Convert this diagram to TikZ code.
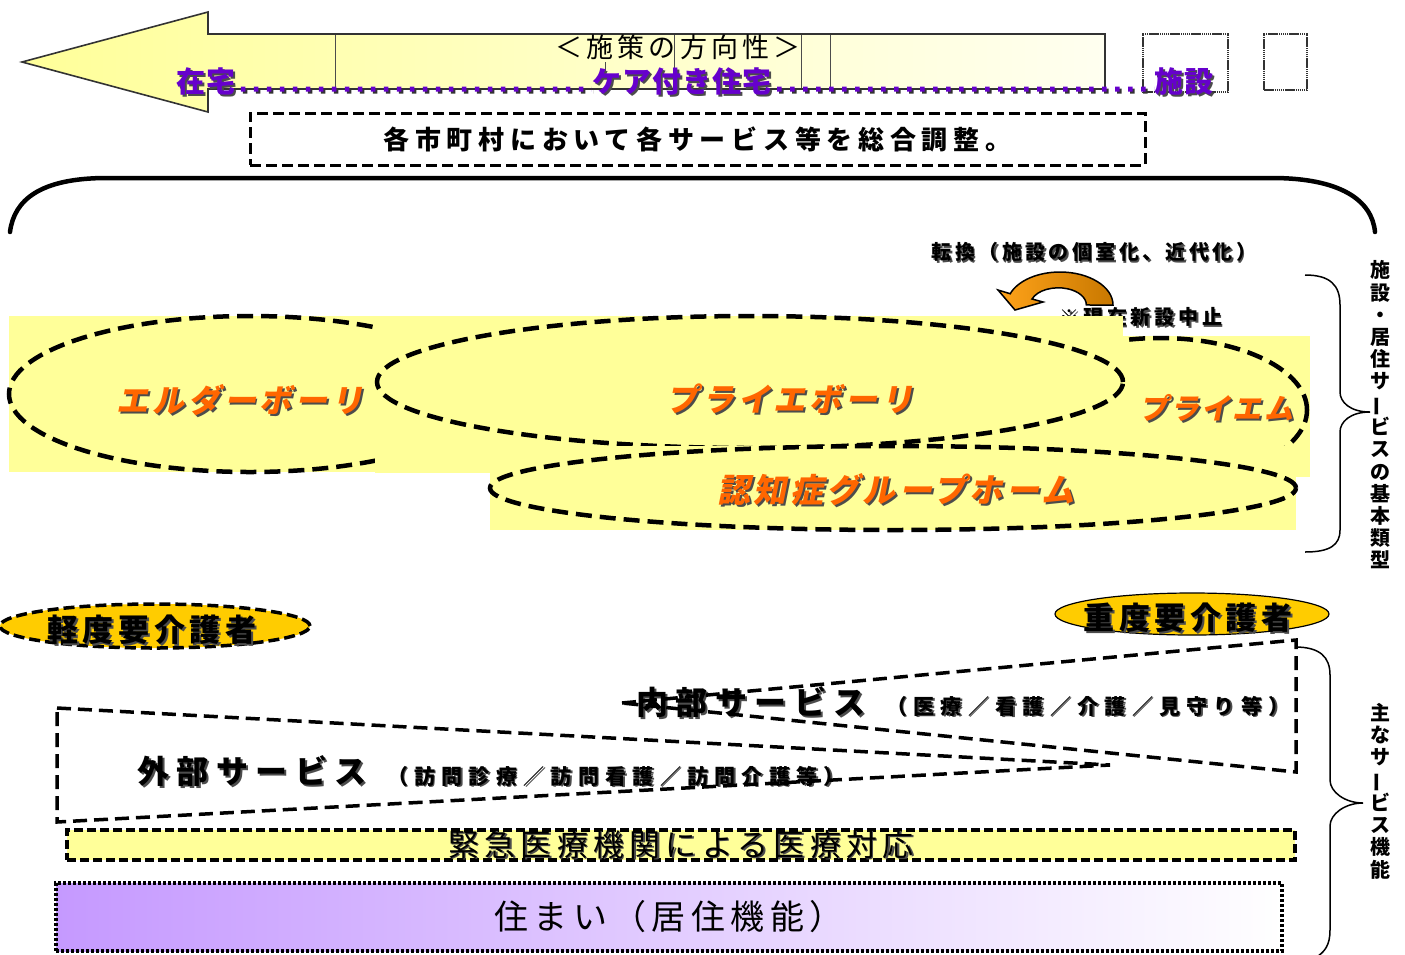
\documentclass[tikz,border=0pt]{standalone}
\usepackage{fontspec}
\usepackage{graphicx}
\setmainfont{Noto Sans CJK JP}
\newfontfamily\jpit{Noto Sans CJK JP}[FakeSlant=0.2]
\usetikzlibrary{shapes.geometric}
\definecolor{yel}{HTML}{FFFF99}
\definecolor{pur}{HTML}{6600CC}
\definecolor{org}{HTML}{FF6600}
\definecolor{gold}{HTML}{FFCC00}
\definecolor{lilac}{HTML}{C599FF}
\definecolor{paleyel}{HTML}{FFFFF0}
\definecolor{arrA}{HTML}{FFA31A}
\definecolor{arrB}{HTML}{C87800}
\newcommand{\shd}[3]{\leavevmode\rlap{\hspace*{#1}\raisebox{-#1}{\textcolor{black!70}{#3}}}\textcolor{#2}{#3}}
\newcommand{\fsz}[1]{\fontsize{#1}{#1}\selectfont}
\newcommand{\ls}[1]{\addfontfeature{LetterSpace=#1}}
\newcommand{\vbar}{\rotatebox[origin=c]{90}{ー}}
\begin{document}
\begin{tikzpicture}[x=1pt,y=-1pt,
  txt/.style={inner sep=0pt},
  ell/.style={ellipse, draw=black, line width=4.5pt, dash pattern=on 16pt off 8pt, inner sep=0pt},
  svc/.style={draw=black, line width=3.5pt, dash pattern=on 14pt off 7pt},
  dotbox/.style={draw=black!80, line width=1.8pt, dash pattern=on 1.5pt off 0.6pt, inner sep=0pt},
  orgtxt/.style={inner sep=0pt, font=\jpit\bfseries\fsz{32}\ls{12}},
  purdots/.style={line width=5pt, dash pattern=on 4.5pt off 8.5pt},
  vtext/.style={inner sep=0pt, align=center, font=\bfseries\fontsize{20}{22.2}\selectfont}
]
\useasboundingbox (0,0) rectangle (1405,954);

% big direction arrow
\draw[left color=yel, right color=paleyel, draw=black!80, line width=1.6pt]
  (22,62) -- (208,12) -- (208,34) -- (1105,34) -- (1105,89) -- (208,89) -- (208,112) -- cycle;
\foreach \xx in {335,674,801,830} \draw[black!70, line width=0.8pt] (\xx,35) -- (\xx,88);
\draw[black!70, line width=0.8pt] (605,62) -- (605,78);
\node[txt, font=\fsz{27}\ls{15}] (dir) at (678,47) {＜施策の方向性＞};

\node[dotbox, minimum width=85, minimum height=58] (box1) at (1185.5,63) {};
\node[dotbox, minimum width=43, minimum height=56] (box2) at (1285.5,62) {};

\node[txt, font=\bfseries\fsz{29}\ls{4}] (zaitaku) at (206,82) {\shd{2pt}{pur}{在宅}};
\node[txt, font=\bfseries\fsz{29}\ls{4}] (care) at (682,82) {\shd{2pt}{pur}{ケア付き住宅}};
\node[txt, font=\bfseries\fsz{29}\ls{4}] (shisetsu) at (1184,82) {\shd{2pt}{pur}{施設}};
\draw[purdots, black!80] ([xshift=7pt,yshift=1pt]zaitaku.base east) -- ([xshift=2pt,yshift=1pt]care.base west);
\draw[purdots, pur] ([xshift=5pt,yshift=3pt]zaitaku.base east) -- ([yshift=3pt]care.base west);
\draw[purdots, black!80] ([xshift=7pt,yshift=1pt]care.base east) -- ([xshift=2pt,yshift=1pt]shisetsu.base west);
\draw[purdots, pur] ([xshift=5pt,yshift=3pt]care.base east) -- ([yshift=3pt]shisetsu.base west);

% coordination box
\node[draw=black, line width=3pt, dash pattern=on 11pt off 5pt, minimum width=895, minimum height=52, inner sep=0pt,
  font=\bfseries\fsz{26}\ls{22}] (coord) at (697.5,139) {各市町村において各サービス等を総合調整。};

% top brace
\draw[line width=4.5pt, line cap=round] (10,232) .. controls (14,200) and (40,178) .. (107,178) -- (1272,178) .. controls (1340,178) and (1372,200) .. (1375,232);

% conversion
\node[txt, font=\bfseries\fsz{20}\ls{17}] (tenkan) at (1094,253) {\shd{1.5pt}{black}{転換（施設の個室化、近代化）}};
\draw[left color=arrA, right color=arrB, draw=black, line width=1.5pt]
  (1090,305) -- (1113,305) arc[start angle=0, end angle=-160, x radius=53, y radius=33]
  -- (998,290) -- (1015,310) -- (1043,302) -- (1032,299)
  arc[start angle=-160, end angle=0, x radius=28, y radius=17] -- cycle;
\node[txt, font=\bfseries\fsz{20}\ls{19}] (stop) at (1141,318) {\shd{1.5pt}{black}{※現在新設中止}};

% elder boli
\fill[yel] (9,316) rectangle (491,472);
\node[ell, minimum width=482, minimum height=156] (elder) at (250,394) {};
\node[orgtxt] (eldert) at (240,401) {\shd{2pt}{org}{エルダーボーリ}};

% priem
\fill[yel] (1123,336) rectangle (1310,477);
\node[ell, minimum width=294, minimum height=144] (priem) at (1160,410) {};
\node[orgtxt, font=\jpit\bfseries\fsz{29}\ls{8}] (priemt) at (1216,409) {\shd{2pt}{org}{プライエム}};

% prie boli
\fill[yel] (375,316) rectangle (1123,473);
\node[ell, minimum width=746, minimum height=132] (prieb) at (750,382) {};
\node[orgtxt] (priebt) at (790,400) {\shd{2pt}{org}{プライエボーリ}};

% dementia group home
\fill[yel] (490,446) rectangle (1296,530);
\node[ell, minimum width=806, minimum height=84] (dem) at (893,488) {};
\node[orgtxt, font=\jpit\bfseries\fsz{33}\ls{10}] (demt) at (896,491) {\shd{2pt}{org}{認知症グループホーム}};

% right braces
\draw[line width=1.5pt] (1305,275) .. controls (1330,275) and (1340,285) .. (1340,305) -- (1340,392)
  .. controls (1340,402) and (1350,412) .. (1370,412) .. controls (1350,412) and (1340,422) .. (1340,432)
  -- (1340,530) .. controls (1340,545) and (1330,552) .. (1305,552);
\node[vtext] (vt1) at (1380,415) {施\\設\\・\\居\\住\\サ\\\vbar\\ビ\\ス\\の\\基\\本\\類\\型};
\draw[line width=1.5pt] (1295,647) .. controls (1320,647) and (1330,657) .. (1330,675) -- (1330,780)
  .. controls (1330,792) and (1345,803) .. (1363,803) .. controls (1345,803) and (1330,814) .. (1330,826)
  -- (1330,930) .. controls (1330,945) and (1325,952) .. (1315,958);
\node[vtext] (vt2) at (1380,791) {主\\な\\サ\\\vbar\\ビ\\ス\\機\\能};

% care levels
\node[ellipse, fill=gold, draw=black, line width=3.5pt, dash pattern=on 11pt off 5pt, inner sep=0pt,
  minimum width=310, minimum height=44] (light) at (155,626) {};
\node[txt, font=\bfseries\fsz{31}\ls{15}] (lightt) at (152,631) {\shd{2pt}{black}{軽度要介護者}};
\node[ellipse, fill=gold, draw=black, line width=1.2pt, inner sep=0pt,
  minimum width=274, minimum height=42] (heavy) at (1192,614) {};
\node[txt, font=\bfseries\fsz{31}\ls{15}] (heavyt) at (1188,619) {\shd{2pt}{black}{重度要介護者}};

% services
\node[txt, font=\bfseries\fsz{32}\ls{23}] (ext) at (252,772) {\shd{2pt}{black}{外部サービス}};
\node[txt, font=\bfseries\fsz{21}\ls{30}] (exts) at (616,777) {\shd{1.5pt}{black}{（訪問診療／訪問看護／訪問介護等）}};
\node[txt, font=\bfseries\fsz{32}\ls{23}] (int) at (751,703) {\shd{2pt}{black}{内部サービス}};
\node[txt, font=\bfseries\fsz{21}\ls{30}] (ints) at (1088,707) {\shd{1.5pt}{black}{（医療／看護／介護／見守り等）}};
\draw[svc] (57,708) -- (1110,765) -- (57,822) -- cycle;
\draw[svc] (622,703) -- (1296,640) -- (1296,772) -- cycle;

% emergency bar
\node[fill=yel, draw=black, line width=3.5pt, dash pattern=on 9pt off 4pt, inner sep=0pt,
  minimum width=1228, minimum height=30, font=\fsz{31}\ls{17}] (emerg) at (681,845) {\shd{1.5pt}{black}{緊急医療機関による医療対応}};

% housing
\node[left color=lilac, right color=white, draw=black, line width=4.5pt, dash pattern=on 3pt off 2pt, inner sep=0pt,
  minimum width=1226, minimum height=68, font=\fsz{34}\ls{16}] (house) at (669,917) {住まい（居住機能）};
\end{tikzpicture}
\end{document}
